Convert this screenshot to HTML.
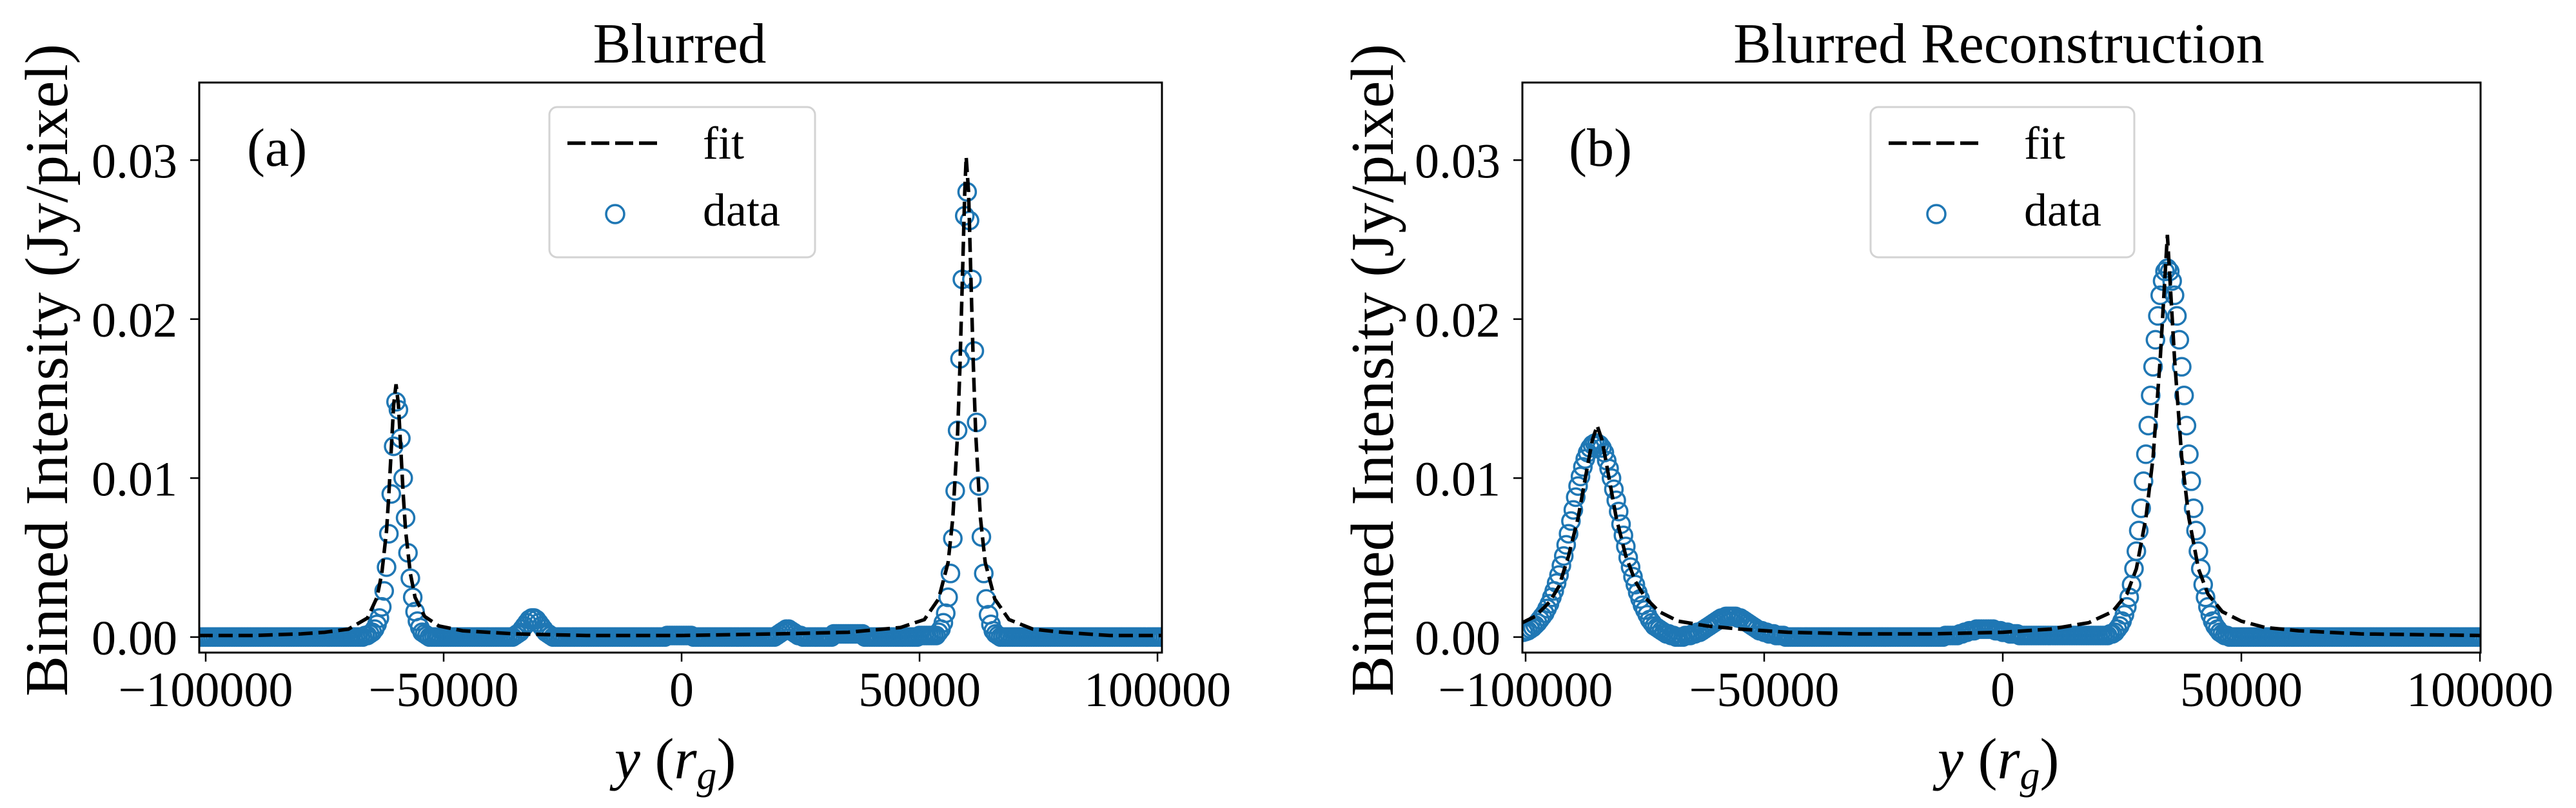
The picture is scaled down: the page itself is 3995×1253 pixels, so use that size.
<!DOCTYPE html>
<html><head><meta charset="utf-8"><style>
html,body{margin:0;padding:0;background:#fff;}
svg{display:block;font-family:"Liberation Serif",serif;}
</style></head><body>
<svg id="fig" width="3995" height="1253" viewBox="0 0 3995 1253" xmlns="http://www.w3.org/2000/svg"></svg>
<script>
// ---------- data (x in thousands of r_g, y in Jy/pixel) ----------
const xTicks = [-100, -50, 0, 50, 100];
const xTickLabels = ["\u2212100000", "\u221250000", "0", "50000", "100000"];
const yTicks = [0, 0.01, 0.02, 0.03];
const yTickLabels = ["0.00", "0.01", "0.02", "0.03"];

const fitAX = [-101.5,-90,-80,-75,-70,-66,-64,-63,-62,-61.5,-61,-60.5,-60,-59.5,-59,-58.5,-58,-57,-56,-54,-51,-46,-35,-20,0,20,35,46,51,54,56,57,58,58.5,59,59.5,59.8,60.3,60.8,61.3,61.8,62.8,63.8,65.8,68.8,73.8,80,90,101.5];
const fitAY = [0.0001,0.0001,0.0002,0.0003,0.0005,0.0012,0.0025,0.0040,0.0067,0.0090,0.0118,0.0146,0.0159,0.0146,0.0118,0.0090,0.0067,0.0040,0.0025,0.0013,0.0007,0.0004,0.0002,0.0001,0.0001,0.0002,0.0003,0.0006,0.0011,0.0024,0.0047,0.0075,0.0128,0.0171,0.0225,0.0280,0.0302,0.0280,0.0225,0.0171,0.0128,0.0075,0.0047,0.0024,0.0011,0.0005,0.0003,0.0001,0.0001];

// panel (a) data: sampled on a uniform grid starting at dataAStart (thousand r_g), step dataAStep
const dataAStart = -101;
const dataAStep = 0.5;
const dataAY = [
 0,0,0,0,0,0,0,0,0,0, 0,0,0,0,0,0,0,0,0,0, 0,0,0,0,0,0,0,0,0,0, 0,0,0,0,0,0,0,0,0,0, 0,0,0,0,0,0,0,0,0,0, 0,0,0,0,0,0,0,0,0,0, 0,0,0,0,0,0,0,0,0,0.0001,
 0.0001,0.0002,0.0003,0.0005,0.0008,0.0012,0.0019,0.0029,0.0044,0.0065,0.0090,0.0120,0.0148,0.0143,0.0125,0.0100,0.0075,0.0053,0.0037,0.0025,0.0016,0.0010,0.0006,0.0003,0.0002,
 0.0001,0,0,0,0,0,0,0,0,0, 0,0,0,0,0,0,0,0,0,0, 0,0,0,0,0,0,0,0,0,0, 0,0,0,0,0,0,
 0,0.0001,0.0002,0.0003,0.0005,0.0007,0.0009,0.0011,0.0012,0.0012,0.0011,0.0009,0.0007,0.0005,0.0003,0.0002,0.0001,0,0,
 0,0,0,0,0,0,0,0,0,0, 0,0,0,0,0,0,0,0,0,0, 0,0,0,0,0,0,0,0,0,0, 0,0,0,0,0,0,0,0,0,0, 0,0,0,0,0,0,
 0.0001,0.0001,0.0001,0.0001,0.0001,0.0001,0.0001,0.0001,0.0001,0.0001,0.0001,
 0,0,0,0,0,0,0,0,0,0, 0,0,0,0,0,0,0,0,0,0, 0,0,0,0,0,0,0,0,0,0, 0,0,0,0,0,
 0.0001,0.0002,0.0003,0.0004,0.0005,0.0005,0.0004,0.0003,0.0002,0.0001,0.0001,
 0,0,0,0,0,0,0,0,0,0,0,0,0,
 0.0002,0.0002,0.0002,0.0002,0.0002,0.0002,0.0002,0.0002,0.0002,0.0002,0.0002,0.0002,0.0002,
 0,0,0,0,0,0,0,0,0,0, 0,0,0,0,0,0,0,0,0,0, 0,0,0,
 0.0001,0.0001,0.0001,0.0001,0.0001,0.0001,0.0001,0.0001,
 0.0003,0.0005,0.0009,0.0015,0.0025,0.0040,0.0062,0.0092,0.0130,0.0175,0.0225,0.0265,0.0280,0.0262,0.0225,0.0180,0.0135,0.0095,0.0063,0.0040,0.0024,0.0014,0.0008,0.0004,0.0002,
 0.0001,0,0,0,0,0,0,0,0,0, 0,0,0,0,0,0,0,0,0,0, 0,0,0,0,0,0,0,0,0,0, 0,0,0,0,0,0,0,0,0,0, 0,0,0,0,0,0,0,0,0,0, 0,0,0,0,0,0,0,0,0,0, 0,0,0,0,0,0,0,0,0,0
];

const fitBX = [-100.7,-98,-95,-93,-91,-89,-87,-86,-85,-84,-83,-81,-79,-77,-75,-72,-68,-62,-55,-45,-30,-15,0,10,18,23,26,28,30,31.5,33,34.5,36,37.5,39,41,43,46,50,55,62,75,100.2];
const fitBY = [0.0009,0.0013,0.0022,0.0032,0.0051,0.0075,0.0108,0.0124,0.0133,0.0124,0.0108,0.0075,0.0051,0.0035,0.0025,0.0016,0.0010,0.0007,0.0005,0.0003,0.0002,0.0002,0.0003,0.0005,0.0009,0.0016,0.0027,0.0043,0.0075,0.0113,0.0175,0.0253,0.0175,0.0113,0.0075,0.0043,0.0027,0.0016,0.0010,0.0006,0.0004,0.0002,0.0001];

// panel (b) data: uniform grid
const dataBStart = -100.5;
const dataBStep = 0.5;
const dataBY = [
 0.0003,0.00035,0.0004,0.0005,0.0006,0.00075,0.0009,0.0011,0.0013,0.0015,0.0018,0.0021,0.0025,0.0029,0.0034,0.0039,0.0045,0.0051,0.0058,0.0065,0.0073,0.0080,0.0088,0.0095,0.0101,0.0107,0.0112,0.0116,0.0119,0.0121,0.0122,0.0122,0.0121,0.0119,0.0116,0.0111,0.0106,0.0100,0.0093,0.0086,0.0079,0.0071,0.0064,0.0057,0.0050,0.0044,0.0038,0.0033,0.0028,0.0024,0.0020,0.0017,0.0014,0.0011,0.0009,0.0007,0.0006,0.0005,0.0004,0.0003,0.0002,0.0002,
 0.0001,0.0001,0,0,0,0,0.0001,0.0001,0.0001,0.0002,0.0002,0.0003,0.0003,0.0004,0.0005,0.0006,0.0007,0.0008,0.0009,0.0010,0.0011,0.0012,0.0012,0.0013,0.0013,0.0013,0.0013,0.0013,0.0012,0.0012,0.0011,0.0010,0.0009,0.0008,0.0007,0.0006,0.0005,0.0004,0.0004,0.0003,0.0003,0.0002,0.0002,0.0002,0.0001,0.0001,0.0001,0.0001,
 0,0,0,0,0,0,0,0,0,0, 0,0,0,0,0,0,0,0,0,0, 0,0,0,0,0,0,0,0,0,0, 0,0,0,0,0,0,0,0,0,0, 0,0,0,0,0,0,0,0,0,0, 0,0,0,0,0,0,0,0,0,0, 0,0,0,0,0,0,0,
 0.0001,0.0001,0.0001,0.0001,0.0001,0.0001,0.0002,0.0002,0.0003,0.0003,0.0004,0.0004,0.0004,0.0005,0.0005,0.0005,0.0005,0.0005,0.0005,0.0005,0.0005,0.0004,0.0004,0.0004,0.0003,0.0003,0.0003,0.0002,0.0002,0.0002,0.0002,0.0001,0.0001,0.0001,0.0001,0.0001,0.0001,
 0.0001,0.0001,0.0001,0.0001,0.0001,0.0001,0.0001,0.0001,0.0001,0.0001,0.0001,0.0001,0.0001,0.0001,0.0001,0.0001,0.0001,0.0001,0.0001,0.0001,0.0001,0.0001,0.0001,0.0001,0.0001,0.0001,0.0001,0.0001,0.0001,0.0001,0.0001,0.0001,
 0.0002,0.0002,0.0003,0.0005,0.0007,0.0010,0.0014,0.0019,0.0025,0.0033,0.0043,0.0054,0.0067,0.0081,0.0098,0.0115,0.0133,0.0152,0.0170,0.0187,0.0202,0.0215,0.0224,0.0230,0.0232,0.0230,0.0224,0.0215,0.0202,0.0187,0.0170,0.0152,0.0133,0.0115,0.0098,0.0081,0.0067,0.0054,0.0043,0.0033,0.0025,0.0019,0.0014,0.0010,0.0007,0.0005,0.0003,0.0002,
 0.0001,0.0001,0,0,0,0,0,0,0,0, 0,0,0,0,0,0,0,0,0,0, 0,0,0,0,0,0,0,0,0,0, 0,0,0,0,0,0,0,0,0,0, 0,0,0,0,0,0,0,0,0,0, 0,0,0,0,0,0,0,0,0,0, 0,0,0,0,0,0,0,0,0,0, 0,0,0,0,0,0,0,0,0,0, 0,0,0,0,0,0,0,0,0,0, 0,0,0,0,0,0,0,0,0,0, 0,0,0,0,0,0,0,0,0
];

// ---------- drawing ----------
const NS = "http://www.w3.org/2000/svg";
const svg = document.getElementById("fig");
function mk(tag, attrs, parent) {
  const e = document.createElementNS(NS, tag);
  for (const k in attrs) e.setAttribute(k, attrs[k]);
  (parent || svg).appendChild(e);
  return e;
}
const yMin = -0.000976, yMax = 0.03488, axTop = 128, axBottom = 1012;

function panel(cfg) {
  const g = mk("g", {});
  
  
  const L = cfg.left, R = cfg.right;
  const sx = v => L + (v - cfg.xMin) / (cfg.xMax - cfg.xMin) * (R - L);
  const sy = v => axBottom - (v - yMin) / (yMax - yMin) * (axBottom - axTop);

  const clipId = "clip-" + cfg.id;
  const cp = mk("clipPath", {id: clipId}, g);
  mk("rect", {x: L, y: axTop, width: R - L, height: axBottom - axTop}, cp);

  const dg = mk("g", {"clip-path": "url(#" + clipId + ")"}, g);
  
  
  for (let i = 0; i < cfg.dy.length; i++) {
    const xv = cfg.dStart + i * cfg.dStep;
    const c = mk("circle", {cx: sx(xv).toFixed(1), cy: sy(cfg.dy[i]).toFixed(1), r: 13.5, fill: "none", stroke: "#1f77b4", "stroke-width": 3.5}, dg);
    
    
  }
  let d = "";
  for (let i = 0; i < cfg.fx.length; i++) d += (i ? "L" : "M") + sx(cfg.fx[i]).toFixed(1) + " " + sy(cfg.fy[i]).toFixed(1);
  const fl = mk("path", {d: d, fill: "none", stroke: "#000", "stroke-width": 5.5, "stroke-dasharray": "22 9", "clip-path": "url(#" + clipId + ")"}, g);
  
  

  const fr = mk("rect", {x: L, y: axTop, width: R - L, height: axBottom - axTop, fill: "none", stroke: "#000", "stroke-width": 3}, g);
  
  

  xTicks.forEach((t, i) => {
    const x = sx(t);
    const tk = mk("line", {x1: x, x2: x, y1: axBottom, y2: axBottom + 14, stroke: "#000", "stroke-width": 2.5}, g);
    
    
    const tl = mk("text", {x: x, y: 1095, "font-size": 76, "text-anchor": "middle"}, g);
    tl.textContent = xTickLabels[i];
    
    
  });
  yTicks.forEach((t, i) => {
    const y = sy(t);
    const tk = mk("line", {x1: L - 14, x2: L, y1: y, y2: y, stroke: "#000", "stroke-width": 2.5}, g);
    
    
    const tl = mk("text", {x: L - 34, y: y + 27, "font-size": 76, "text-anchor": "end"}, g);
    tl.textContent = yTickLabels[i];
    
    
  });

  const ti = mk("text", {x: cfg.titleX, y: 97, "font-size": 88, "text-anchor": "middle"}, g);
  ti.textContent = cfg.title;
  
  

  const yl = mk("text", {x: 0, y: 0, "font-size": 94, "text-anchor": "middle", textLength: 1012, lengthAdjust: "spacingAndGlyphs", transform: "translate(" + cfg.yLabelX + " 574) rotate(-90)"}, g);
  yl.textContent = "Binned Intensity (Jy/pixel)";
  
  

  const xl = mk("text", {x: cfg.xLabelX, y: 1207, "font-size": 90}, g);
  
  
  const t1 = mk("tspan", {"font-style": "italic"}, xl); t1.textContent = "y";
  const t2 = mk("tspan", {}, xl); t2.textContent = " (";
  const t3 = mk("tspan", {"font-style": "italic"}, xl); t3.textContent = "r";
  const t4 = mk("tspan", {"font-style": "italic", "font-size": 62, dy: 16}, xl); t4.textContent = "g";
  const t5 = mk("tspan", {dy: -16}, xl); t5.textContent = ")";

  const pl = mk("text", {x: cfg.labelX, y: 257, "font-size": 84}, g);
  pl.textContent = cfg.label;
  
  

  const lg = mk("g", {}, g);
  
  
  mk("rect", {x: cfg.legX, y: 166, width: cfg.legW, height: 233, rx: 12, fill: "#fff", "fill-opacity": 0.8, stroke: "#d3d3d3", "stroke-width": 3}, lg);
  const ll = mk("line", {x1: cfg.legX + 28, x2: cfg.legX + 167, y1: 222, y2: 222, stroke: "#000", "stroke-width": 5.5, "stroke-dasharray": "28 9"}, lg);
  
  
  const lt1 = mk("text", {x: cfg.legX + 238, y: 246, "font-size": 72}, lg);
  lt1.textContent = "fit";
  
  
  const lc = mk("circle", {cx: cfg.legX + 102, cy: 332, r: 14, fill: "none", stroke: "#1f77b4", "stroke-width": 3.5}, lg);
  
  
  const lt2 = mk("text", {x: cfg.legX + 238, y: 350, "font-size": 72}, lg);
  lt2.textContent = "data";
  
  
}

panel({id: "panel-a", left: 309, right: 1802, xMin: -101.355, xMax: 100.935,
  dStart: dataAStart, dStep: dataAStep, dy: dataAY, fx: fitAX, fy: fitAY,
  title: "Blurred", titleX: 1054, yLabelX: 104, xLabelX: 953, label: "(a)", labelX: 383,
  legX: 852, legW: 412});
panel({id: "panel-b", left: 2361, right: 3847, xMin: -100.675, xMax: 100.13,
  dStart: dataBStart, dStep: dataBStep, dy: dataBY, fx: fitBX, fy: fitBY,
  title: "Blurred Reconstruction", titleX: 3100, yLabelX: 2160, xLabelX: 3005, label: "(b)", labelX: 2433,
  legX: 2901, legW: 409});
</script>
</body></html>
